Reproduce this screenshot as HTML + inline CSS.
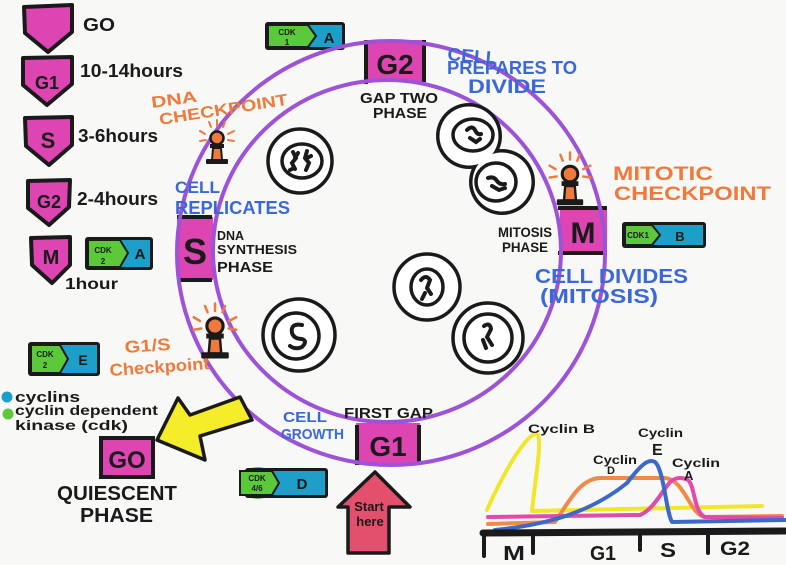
<!DOCTYPE html>
<html><head><meta charset="utf-8"><style>
html,body{margin:0;padding:0;background:#f8f8f6;}
svg{display:block}
text{font-family:"Liberation Sans",sans-serif;font-weight:bold;}
</style></head><body>
<svg width="786" height="565" viewBox="0 0 786 565" xmlns="http://www.w3.org/2000/svg">
<defs>
<g id="cp">
  <g stroke="#f07a3b" stroke-width="2" stroke-linecap="round">
    <line x1="-12" y1="-4" x2="-17" y2="-7"/><line x1="-11" y1="2" x2="-17" y2="3"/>
    <line x1="-6" y1="-11" x2="-8" y2="-16"/><line x1="0" y1="-12" x2="0" y2="-18"/>
    <line x1="6" y1="-11" x2="8" y2="-16"/><line x1="11" y1="-4" x2="17" y2="-7"/>
    <line x1="11" y1="2" x2="17" y2="3"/>
  </g>
  <circle cx="0" cy="0" r="6.5" fill="#f07a3b" stroke="#1a1a1a" stroke-width="2.5"/>
  <rect x="-7" y="6" width="14" height="4" fill="#1a1a1a"/>
  <path d="M-4,10 L4,10 L5,22 L-5,22 Z" fill="#f07a3b" stroke="#1a1a1a" stroke-width="2"/>
  <rect x="-11" y="21" width="22" height="5" rx="1" fill="#1a1a1a"/>
</g>
</defs>
<rect width="786" height="565" fill="#f8f8f6"/>

<!-- Legend pentagons -->
<g fill="#dc45b2" stroke="#1a1a1a" stroke-width="4" stroke-linejoin="round">
  <polygon points="24,7 72,5 72,32 48,52 25,33"/>
  <polygon points="23,58 72,57 72,84 47,105 23,85"/>
  <polygon points="25,118 72,117 72,145 49,165 26,146"/>
  <polygon points="28,181 70,180 69,207 49,225 28,208"/>
  <polygon points="31,238 70,237 70,265 52,283 32,265"/>
</g>
<g fill="#1a1a1a" text-anchor="middle">
  <text x="47" y="89" font-size="18">G1</text>
  <text x="48" y="148" font-size="22">S</text>
  <text x="49" y="208" font-size="18">G2</text>
  <text x="51" y="264" font-size="20">M</text>
</g>
<g fill="#1a1a1a">
  <text x="83" y="31" font-size="18" textLength="32" lengthAdjust="spacingAndGlyphs">GO</text>
  <text x="80" y="77" font-size="18" textLength="103" lengthAdjust="spacingAndGlyphs">10-14hours</text>
  <text x="78" y="142" font-size="18" textLength="80" lengthAdjust="spacingAndGlyphs">3-6hours</text>
  <text x="77" y="205" font-size="18" textLength="81" lengthAdjust="spacingAndGlyphs">2-4hours</text>
  <text x="65" y="289" font-size="16" textLength="53" lengthAdjust="spacingAndGlyphs">1hour</text>
</g>

<!-- CDK badges -->
<g>
  <rect x="85" y="237" width="68" height="33" rx="3" fill="#1a1a1a"/>
  <rect x="88" y="240" width="62" height="27" fill="#1e9fc9"/>
  <polygon points="88,240 120,240 128,253 120,267 88,267" fill="#5cc93a" stroke="#1a1a1a" stroke-width="2"/>
  <text x="103" y="253" font-size="8" text-anchor="middle" fill="#1a1a1a">CDK</text>
  <text x="103" y="264" font-size="8" text-anchor="middle" fill="#1a1a1a">2</text>
  <text x="140" y="259" font-size="15" text-anchor="middle" fill="#1a1a1a">A</text>

  <rect x="265" y="22" width="80" height="28" rx="3" fill="#1a1a1a"/>
  <rect x="268" y="25" width="74" height="22" fill="#1e9fc9"/>
  <polygon points="268,25 308,25 316,36 308,47 268,47" fill="#5cc93a" stroke="#1a1a1a" stroke-width="2"/>
  <text x="287" y="35" font-size="8" text-anchor="middle" fill="#1a1a1a">CDK</text>
  <text x="287" y="45" font-size="8" text-anchor="middle" fill="#1a1a1a">1</text>
  <text x="329" y="43" font-size="15" text-anchor="middle" fill="#1a1a1a">A</text>

  <rect x="622" y="222" width="84" height="26" rx="3" fill="#1a1a1a"/>
  <rect x="625" y="225" width="78" height="20" fill="#1e9fc9"/>
  <polygon points="625,225 652,225 660,235 652,245 625,245" fill="#5cc93a" stroke="#1a1a1a" stroke-width="2"/>
  <text x="638" y="238" font-size="8" text-anchor="middle" fill="#1a1a1a">CDK1</text>
  <text x="680" y="241" font-size="13" text-anchor="middle" fill="#1a1a1a">B</text>

  <rect x="28" y="342" width="72" height="34" rx="3" fill="#1a1a1a"/>
  <rect x="31" y="345" width="66" height="28" fill="#1e9fc9"/>
  <polygon points="31,345 60,345 68,359 60,373 31,373" fill="#5cc93a" stroke="#1a1a1a" stroke-width="2"/>
  <text x="45" y="357" font-size="8" text-anchor="middle" fill="#1a1a1a">CDK</text>
  <text x="45" y="368" font-size="8" text-anchor="middle" fill="#1a1a1a">2</text>
  <text x="83" y="365" font-size="14" text-anchor="middle" fill="#1a1a1a">E</text>

  <ellipse cx="258" cy="483" rx="19" ry="16" fill="#5cc93a"/>
  <rect x="245" y="468" width="83" height="30" rx="3" fill="#1a1a1a"/>
  <rect x="248" y="471" width="77" height="24" fill="#1e9fc9"/>
  <polygon points="240,471 272,471 279,483 272,495 240,495" fill="#5cc93a" stroke="#1a1a1a" stroke-width="2"/>
  <text x="257" y="481" font-size="8" text-anchor="middle" fill="#1a1a1a">CDK</text>
  <text x="257" y="491" font-size="8" text-anchor="middle" fill="#1a1a1a">4/6</text>
  <text x="302" y="489" font-size="15" text-anchor="middle" fill="#1a1a1a">D</text>
</g>

<!-- Phase boxes -->
<rect x="365" y="40" width="60" height="42" fill="#dc45b2"/>
<line x1="366" y1="40" x2="366" y2="84" stroke="#1a1a1a" stroke-width="4"/>
<line x1="424" y1="40" x2="424" y2="82" stroke="#1a1a1a" stroke-width="4"/>
<rect x="177" y="217" width="36" height="63" fill="#dc45b2"/>
<line x1="177" y1="217" x2="212" y2="217" stroke="#1a1a1a" stroke-width="4"/>
<line x1="177" y1="280" x2="212" y2="280" stroke="#1a1a1a" stroke-width="4"/>
<rect x="560" y="207" width="47" height="46" fill="#dc45b2"/>
<line x1="558" y1="208" x2="607" y2="208" stroke="#1a1a1a" stroke-width="4"/>
<line x1="558" y1="253" x2="607" y2="253" stroke="#1a1a1a" stroke-width="4"/>
<rect x="356" y="423" width="64" height="42" fill="#dc45b2"/>
<line x1="357" y1="425" x2="357" y2="465" stroke="#1a1a1a" stroke-width="4"/>
<line x1="419" y1="425" x2="419" y2="463" stroke="#1a1a1a" stroke-width="4"/>

<!-- Rings -->
<ellipse cx="391" cy="253" rx="214" ry="212" fill="none" stroke="#9d52d8" stroke-width="4"/>
<ellipse cx="387" cy="251" rx="174" ry="171" fill="none" stroke="#9d52d8" stroke-width="4"/>

<g fill="#1a1a1a" text-anchor="middle">
  <text x="395" y="74" font-size="28">G2</text>
  <text x="195" y="264" font-size="36">S</text>
  <text x="583" y="243" font-size="30">M</text>
  <text x="388" y="456" font-size="28">G1</text>
</g>

<!-- Cells -->
<g fill="#fff" stroke="#1a1a1a" stroke-width="3.5">
  <circle cx="300" cy="161" r="32"/>
  <ellipse cx="302" cy="161" rx="20" ry="17"/>
  <circle cx="427" cy="287" r="33"/>
  <ellipse cx="427" cy="287" rx="16" ry="18"/>
  <circle cx="488" cy="338" r="35"/>
  <circle cx="488" cy="338" r="24"/>
  <circle cx="299" cy="335" r="36"/>
  <circle cx="296" cy="336" r="23"/>
</g>
<circle cx="469" cy="136" r="33" fill="#1a1a1a"/>
<circle cx="502" cy="182" r="33" fill="#1a1a1a"/>
<circle cx="469" cy="136" r="29.5" fill="#fff"/>
<circle cx="502" cy="182" r="29.5" fill="#fff"/>
<g fill="none" stroke="#1a1a1a" stroke-width="3.5">
  <ellipse cx="473" cy="135" rx="20" ry="16"/>
  <ellipse cx="496" cy="182" rx="20" ry="19"/>
</g>
<g fill="none" stroke="#1a1a1a" stroke-width="4" stroke-linecap="round">
  <path d="M293,152 l3,6 l-4,5 l3,6 M298,153 l-3,5 M290,170 l4,-2"/>
  <path d="M307,151 l-2,7 l4,5 l-3,7 M311,156 l-4,2"/>
  <path d="M467,130 q5,-5 8,0 q2,5 6,4 M470,138 l6,4 l4,-3"/>
  <path d="M488,178 q6,-2 9,3 q3,4 8,3 M492,186 l7,4 l6,-2"/>
  <path d="M421,280 q5,-6 9,0 l-3,8 l4,6 M425,293 l-3,6"/>
  <path d="M484,326 q6,-4 7,3 l-4,8 l5,8 M483,340 l3,8"/>
  <path d="M302,325 q-12,-2 -10,8 q2,6 10,6 q6,2 0,8 q-6,3 -12,-1"/>
</g>

<!-- Checkpoints -->
<use href="#cp" transform="translate(217,138)"/>
<use href="#cp" transform="translate(215,326) scale(1.25)"/>
<use href="#cp" transform="translate(570,174) scale(1.2)"/>

<!-- Yellow arrow -->
<polygon points="157,440 178,398 190,415 240,397 252,420 200,436 205,460" fill="#f5ec2a" stroke="#1a1a1a" stroke-width="3.5" stroke-linejoin="round"/>

<!-- Start here arrow -->
<polygon points="375,472 410,507 389,507 389,553 348,553 348,507 338,507" fill="#e3506e" stroke="#1a1a1a" stroke-width="3.5" stroke-linejoin="round"/>
<text x="369" y="511" font-size="13" text-anchor="middle" fill="#1a1a1a">Start</text>
<text x="370" y="526" font-size="13" text-anchor="middle" fill="#1a1a1a">here</text>

<!-- G0 box -->
<rect x="101" y="438" width="52" height="39" fill="#dc45b2" stroke="#1a1a1a" stroke-width="4"/>
<text x="127" y="468" font-size="24" text-anchor="middle" fill="#1a1a1a">GO</text>

<!-- Orange labels -->
<g fill="#ef7a3b">
  <text x="152" y="108" font-size="16" textLength="46" lengthAdjust="spacingAndGlyphs" transform="rotate(-8 152 108)">DNA</text>
  <text x="160" y="125" font-size="16" textLength="130" lengthAdjust="spacingAndGlyphs" transform="rotate(-9 160 125)">CHECKPOINT</text>
  <text x="613" y="180" font-size="19" textLength="100" lengthAdjust="spacingAndGlyphs">MITOTIC</text>
  <text x="614" y="200" font-size="19" textLength="157" lengthAdjust="spacingAndGlyphs">CHECKPOINT</text>
  <text x="125" y="353" font-size="17" textLength="46" lengthAdjust="spacingAndGlyphs" transform="rotate(-4 125 353)">G1/S</text>
  <text x="110" y="376" font-size="17" textLength="100" lengthAdjust="spacingAndGlyphs" transform="rotate(-4 110 376)">Checkpoint</text>
</g>

<!-- Blue labels -->
<g fill="#3a68d8">
  <text x="447" y="60" font-size="18" textLength="50" lengthAdjust="spacingAndGlyphs" transform="rotate(5 447 60)">CELL</text>
  <text x="447" y="74" font-size="18" textLength="130" lengthAdjust="spacingAndGlyphs">PREPARES TO</text>
  <text x="468" y="93" font-size="19" textLength="78" lengthAdjust="spacingAndGlyphs">DIVIDE</text>
  <text x="175" y="193" font-size="17" textLength="45" lengthAdjust="spacingAndGlyphs">CELL</text>
  <text x="175" y="214" font-size="18" textLength="115" lengthAdjust="spacingAndGlyphs">REPLICATES</text>
  <text x="535" y="283" font-size="20" textLength="153" lengthAdjust="spacingAndGlyphs">CELL DIVIDES</text>
  <text x="540" y="303" font-size="20" textLength="118" lengthAdjust="spacingAndGlyphs">(MITOSIS)</text>
  <text x="283" y="422" font-size="15" textLength="44" lengthAdjust="spacingAndGlyphs">CELL</text>
  <text x="281" y="439" font-size="15" textLength="63" lengthAdjust="spacingAndGlyphs">GROWTH</text>
</g>

<!-- Black labels -->
<g fill="#1a1a1a">
  <text x="360" y="103" font-size="15" textLength="78" lengthAdjust="spacingAndGlyphs">GAP TWO</text>
  <text x="373" y="118" font-size="15" textLength="54" lengthAdjust="spacingAndGlyphs">PHASE</text>
  <text x="217" y="240" font-size="13" textLength="27" lengthAdjust="spacingAndGlyphs">DNA</text>
  <text x="217" y="254" font-size="13" textLength="80" lengthAdjust="spacingAndGlyphs">SYNTHESIS</text>
  <text x="217" y="272" font-size="15" textLength="56" lengthAdjust="spacingAndGlyphs">PHASE</text>
  <text x="498" y="237" font-size="14" textLength="54" lengthAdjust="spacingAndGlyphs">MITOSIS</text>
  <text x="502" y="252" font-size="14" textLength="46" lengthAdjust="spacingAndGlyphs">PHASE</text>
  <text x="344" y="418" font-size="15" textLength="89" lengthAdjust="spacingAndGlyphs">FIRST GAP</text>
  <text x="57" y="500" font-size="20" textLength="120" lengthAdjust="spacingAndGlyphs">QUIESCENT</text>
  <text x="80" y="522" font-size="20" textLength="73" lengthAdjust="spacingAndGlyphs">PHASE</text>
  <text x="15" y="402" font-size="15" textLength="65" lengthAdjust="spacingAndGlyphs">cyclins</text>
  <text x="15" y="415" font-size="14" textLength="143" lengthAdjust="spacingAndGlyphs">cyclin dependent</text>
  <text x="15" y="430" font-size="14" textLength="113" lengthAdjust="spacingAndGlyphs">kinase (cdk)</text>
</g>
<circle cx="7" cy="397" r="5.5" fill="#1e9fc9"/>
<circle cx="8" cy="414" r="5.5" fill="#5cc93a"/>

<!-- Graph -->
<g fill="none" stroke-width="4" stroke-linecap="round" stroke-linejoin="round">
  <path d="M487,510 C500,480 526,432 537,434 C543,437 535,480 532,511 L762,506" stroke="#f2e62a"/>
  <path d="M488,524 L555,522 C570,500 580,479 600,478 L665,478 C685,480 690,515 705,517 L782,516" stroke="#f08a4a"/>
  <path d="M488,517 L640,515 C652,510 660,495 667,486 C672,478 680,476 688,480 C695,486 694,513 705,517 L782,518" stroke="#e04aa8"/>
  <path d="M495,530 C545,525 590,513 627,483 C640,466 648,458 655,462 C664,470 666,512 672,522 L785,520" stroke="#3c68c8"/>
</g>
<g stroke="#1a1a1a" stroke-linecap="round">
  <line x1="483" y1="533" x2="785" y2="531" stroke-width="7"/>
  <line x1="484" y1="533" x2="484" y2="556" stroke-width="4"/>
  <line x1="533" y1="533" x2="533" y2="553" stroke-width="4"/>
  <line x1="640" y1="533" x2="640" y2="550" stroke-width="4"/>
  <line x1="708" y1="533" x2="708" y2="553" stroke-width="4"/>
</g>
<g fill="#1a1a1a">
  <text x="503" y="560" font-size="20" textLength="22" lengthAdjust="spacingAndGlyphs">M</text>
  <text x="590" y="560" font-size="20" textLength="26" lengthAdjust="spacingAndGlyphs">G1</text>
  <text x="660" y="557" font-size="20" textLength="16" lengthAdjust="spacingAndGlyphs">S</text>
  <text x="720" y="555" font-size="19" textLength="30" lengthAdjust="spacingAndGlyphs">G2</text>
  <text x="528" y="433" font-size="12" textLength="67" lengthAdjust="spacingAndGlyphs">Cyclin B</text>
  <text x="638" y="437" font-size="12" textLength="45" lengthAdjust="spacingAndGlyphs">Cyclin</text>
  <text x="652" y="455" font-size="16">E</text>
  <text x="593" y="464" font-size="12" textLength="44" lengthAdjust="spacingAndGlyphs">Cyclin</text>
  <text x="607" y="474" font-size="11">D</text>
  <text x="672" y="467" font-size="12" textLength="48" lengthAdjust="spacingAndGlyphs">Cyclin</text>
  <text x="684" y="480" font-size="13">A</text>
</g>
</svg>
</body></html>
